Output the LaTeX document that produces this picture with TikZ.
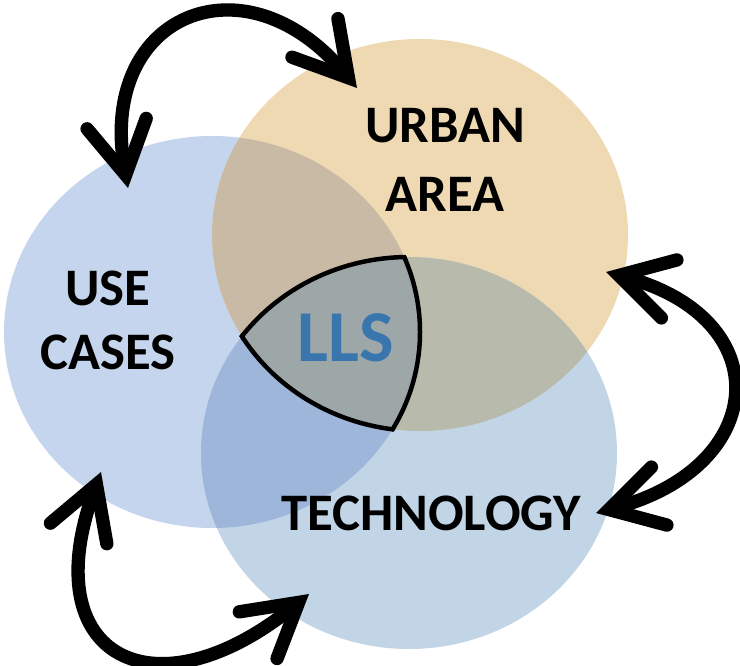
\documentclass[tikz,border=0pt]{standalone}
\usepackage{fontspec}
\setmainfont{Carlito}
\usetikzlibrary{arrows.meta}
\definecolor{ucBlue}{HTML}{C5D5EE}
\definecolor{uaOrange}{HTML}{EFD9B3}
\definecolor{techBlue}{HTML}{C2D5E6}
\definecolor{ucUaMix}{HTML}{C9BAA6}
\definecolor{uaTechMix}{HTML}{B8BAAC}
\definecolor{ucTechMix}{HTML}{9DB6D9}
\definecolor{llsGray}{HTML}{9EA7A8}
\definecolor{llsText}{HTML}{3A76AE}
\tikzset{
  venn/.style={x radius=208, y radius=196},
  vennout/.style={x radius=210, y radius=198},
  vennlabel/.style={font=\bfseries\fontsize{37.5}{47}\selectfont, align=center, inner sep=0pt},
  cyclearrow/.style={line width=9.5pt, <->},
  >={Straight Barb[length=1.3cm, width=1.5cm, line cap=round]}
}

\begin{document}
\begin{tikzpicture}[x=0.025cm, y=0.025cm]
    \useasboundingbox (0,0) rectangle (740,665);
    \coordinate (uc) at (212,333);
    \coordinate (ua) at (420,430);
    \coordinate (tech) at (409,212);
    \fill[ucBlue] (uc) ellipse [venn];
    \fill[uaOrange] (ua) ellipse [venn];
    \fill[techBlue] (tech) ellipse [venn];
    \begin{scope}
        \clip (uc) ellipse [venn];
        \fill[ucUaMix] (ua) ellipse [venn];
        \fill[ucTechMix] (tech) ellipse [venn];
    \end{scope}
    \begin{scope}
        \clip (ua) ellipse [venn];
        \fill[uaTechMix] (tech) ellipse [venn];
    \end{scope}
    \begin{scope}
        \clip (uc) ellipse [venn];
        \clip (ua) ellipse [venn];
        \fill[llsGray] (tech) ellipse [venn];
    \end{scope}
    \begin{scope}
        \clip (ua) ellipse [vennout];
        \clip (tech) ellipse [vennout];
        \draw[line width=3.2pt] (uc) ellipse [venn];
    \end{scope}
    \begin{scope}
        \clip (uc) ellipse [vennout];
        \clip (tech) ellipse [vennout];
        \draw[line width=3.2pt] (ua) ellipse [venn];
    \end{scope}
    \begin{scope}
        \clip (uc) ellipse [vennout];
        \clip (ua) ellipse [vennout];
        \draw[line width=3.2pt] (tech) ellipse [venn];
    \end{scope}
    \node[vennlabel, font=\bfseries\fontsize{37.5}{49.6}\selectfont] (ualabel) at (445,505) {URBAN\\AREA};
    \node[vennlabel, font=\bfseries\fontsize{37.5}{45.4}\selectfont] (uclabel) at (108,345) {USE\\CASES};
    \node[vennlabel] (techlabel) at (431,152) {TECHNOLOGY};
    \node[inner sep=0pt, text=llsText, font=\bfseries\fontsize{52}{60}\selectfont] (lls) at (346,327) {LLS};
    \coordinate (ucTop) at (128,477);
    \coordinate (uaLeft) at (357,577);
    \coordinate (uaRight) at (606,393);
    \coordinate (techRight) at (596,152);
    \coordinate (ucBottom) at (101,193);
    \coordinate (techLeft) at (309,71);
    \draw[cyclearrow] (ucTop) to[out=100, in=130, looseness=1.8] (uaLeft);
    \draw[cyclearrow] (uaRight) to[out=-15, in=15, looseness=1.9] (techRight);
    \draw[cyclearrow] (ucBottom) to[out=250, in=219, looseness=2.1] (techLeft);
\end{tikzpicture}
\end{document}
